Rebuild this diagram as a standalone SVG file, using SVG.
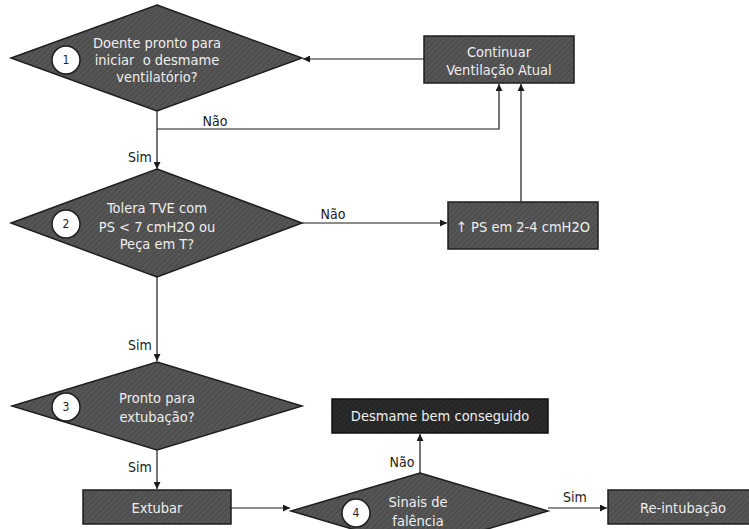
<svg xmlns="http://www.w3.org/2000/svg" width="749" height="529" viewBox="0 0 749 529">
  <defs>
    <marker id="arrow" viewBox="0 0 8 8" refX="8" refY="4" markerWidth="7" markerHeight="7" markerUnits="userSpaceOnUse" orient="auto">
      <path d="M0,0 L8,4 L0,8 Z" fill="#1a1a1a"/>
    </marker>
    <pattern id="hatch" width="4" height="4" patternUnits="userSpaceOnUse" patternTransform="rotate(45)">
      <rect width="4" height="4" fill="#555555"/>
      <line x1="0" y1="0" x2="0" y2="4" stroke="#404040" stroke-width="1.2"/>
    </pattern>
    <pattern id="hatchDark" width="4" height="4" patternUnits="userSpaceOnUse" patternTransform="rotate(45)">
      <rect width="4" height="4" fill="#2a2a2a"/>
      <line x1="0" y1="0" x2="0" y2="4" stroke="#1c1c1c" stroke-width="1.2"/>
    </pattern>
  </defs>
  <style>
    .shape { fill: url(#hatch); stroke: #1e1e1e; stroke-width: 1.5; }
    .shape-dark { fill: url(#hatchDark); stroke: #111; stroke-width: 1.5; }
    .num { fill: #ffffff; stroke: #1e1e1e; stroke-width: 1.5; }
    .num-text { font-family: "DejaVu Sans Condensed", "DejaVu Sans", sans-serif; font-size: 12px; fill: #222; text-anchor: middle; }
    .node-text { font-family: "DejaVu Sans Condensed", "DejaVu Sans", sans-serif; font-size: 14.5px; fill: #eeeeee; text-anchor: middle; }
    .label { font-family: "DejaVu Sans Condensed", "DejaVu Sans", sans-serif; font-size: 14px; fill: #1a1a1a; text-anchor: middle; }
    .link { fill: none; stroke: #1a1a1a; stroke-width: 1.2; }
  </style>

  <rect width="749" height="529" fill="#ffffff"/>

  <!-- connectors -->
  <g id="connectors">
    <path class="link" d="M424,59 L303,59" marker-end="url(#arrow)"/>
    <path class="link" d="M157,111 L157,169" marker-end="url(#arrow)"/>
    <path class="link" d="M157,129 L499,129 L499,84" marker-end="url(#arrow)"/>
    <path class="link" d="M521,202 L521,84" marker-end="url(#arrow)"/>
    <path class="link" d="M302,223 L447,223" marker-end="url(#arrow)"/>
    <path class="link" d="M157,277 L157,361" marker-end="url(#arrow)"/>
    <path class="link" d="M157,450 L157,489" marker-end="url(#arrow)"/>
    <path class="link" d="M231,508 L290,508" marker-end="url(#arrow)"/>
    <path class="link" d="M420,473 L420,434" marker-end="url(#arrow)"/>
    <path class="link" d="M548,508 L607,508" marker-end="url(#arrow)"/>
    <text class="label" x="215" y="126">Não</text>
    <text class="label" x="140" y="162">Sim</text>
    <text class="label" x="333" y="219">Não</text>
    <text class="label" x="140" y="350">Sim</text>
    <text class="label" x="140" y="472">Sim</text>
    <text class="label" x="402" y="467">Não</text>
    <text class="label" x="575" y="502">Sim</text>
  </g>

  <!-- decision 1 -->
  <g id="decision1">
    <polygon class="shape" points="157,5 302,58 157,111 11,58"/>
    <circle class="num" cx="66" cy="60" r="14"/>
    <text class="num-text" x="66" y="64">1</text>
    <text class="node-text" x="157" y="48">Doente pronto para</text>
    <text class="node-text" x="157" y="65">iniciar&#160; o desmame</text>
    <text class="node-text" x="157" y="82">ventilatório?</text>
  </g>

  <!-- keep current ventilation -->
  <g id="continuar">
    <rect class="shape" x="424" y="36" width="150" height="47"/>
    <text class="node-text" x="499" y="57">Continuar</text>
    <text class="node-text" x="499" y="75">Ventilação Atual</text>
  </g>

  <!-- decision 2 -->
  <g id="decision2">
    <polygon class="shape" points="157,169 302,223 157,277 11,223"/>
    <circle class="num" cx="66" cy="224" r="14"/>
    <text class="num-text" x="66" y="228">2</text>
    <text class="node-text" x="157" y="213">Tolera TVE com</text>
    <text class="node-text" x="157" y="232">PS &lt; 7 cmH2O ou</text>
    <text class="node-text" x="157" y="249">Peça em T?</text>
  </g>

  <!-- raise pressure support -->
  <g id="aumentarPS">
    <rect class="shape" x="448" y="202" width="150" height="47"/>
    <text class="node-text" x="523" y="232">↑ PS em 2-4 cmH2O</text>
  </g>

  <!-- decision 3 -->
  <g id="decision3">
    <polygon class="shape" points="157,362 302,406 157,450 12,406"/>
    <circle class="num" cx="66" cy="407" r="14"/>
    <text class="num-text" x="66" y="411">3</text>
    <text class="node-text" x="157" y="403">Pronto para</text>
    <text class="node-text" x="157" y="422">extubação?</text>
  </g>

  <!-- extubate -->
  <g id="extubar">
    <rect class="shape" x="83" y="490" width="148" height="34"/>
    <text class="node-text" x="157" y="513">Extubar</text>
  </g>

  <!-- successful weaning -->
  <g id="sucesso">
    <rect class="shape-dark" x="332" y="399" width="216" height="34"/>
    <text class="node-text" x="440" y="421">Desmame bem conseguido</text>
  </g>

  <!-- decision 4 -->
  <g id="decision4">
    <polygon class="shape" points="420,473 548,511 420,549 291,511"/>
    <circle class="num" cx="356" cy="513" r="14"/>
    <text class="num-text" x="356" y="517">4</text>
    <text class="node-text" x="418" y="507">Sinais de</text>
    <text class="node-text" x="418" y="526">falência</text>
  </g>

  <!-- re-intubation -->
  <g id="reintubacao">
    <rect class="shape" x="608" y="490" width="150" height="34"/>
    <text class="node-text" x="683" y="513">Re-intubação</text>
  </g>
</svg>
